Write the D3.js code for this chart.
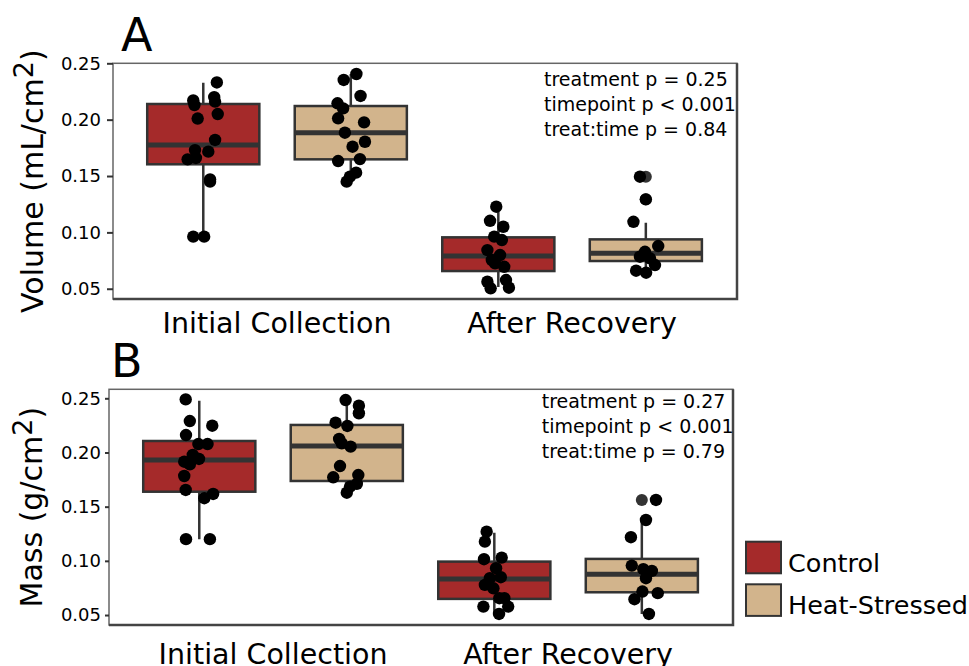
<!DOCTYPE html>
<html>
<head>
<meta charset="utf-8">
<script src="https://cdn.jsdelivr.net/npm/d3@7"></script>
<style>
  body { margin: 0; background: #fff; }
  text { font-family: "DejaVu Sans", sans-serif; fill: #000; }
</style>
</head>
<body>
<div class="chart"></div>
<script>
// categories and treatments
const timepoints = ['Initial Collection', 'After Recovery'];
const treatments = ['Control', 'Heat-Stressed'];
const yTicks = [0.05, 0.10, 0.15, 0.20, 0.25];

// box order: control-initial, heat-initial, control-after, heat-after
// panel A: volume (mL/cm2)
const volLow  = [0.0962, 0.145, 0.0515, 0.0642];
const volQ1   = [0.1604, 0.1648, 0.0657, 0.0746];
const volMed  = [0.1775, 0.1884, 0.0790, 0.0814];
const volQ3   = [0.2139, 0.2121, 0.0956, 0.0938];
const volHigh = [0.2328, 0.2405, 0.1210, 0.1086];
const volOutliers = [[], [], [], [0.1293, 0.1494]];
const volPoints = [
    [0.233, 0.217, 0.213, 0.220, 0.216, 0.201, 0.205, 0.182, 0.173, 0.1716, 0.1648, 0.166, 0.147, 0.145, 0.0962, 0.0962],
    [0.2405, 0.2352, 0.221, 0.2145, 0.210, 0.2012, 0.1976, 0.1884, 0.1804, 0.176, 0.1633, 0.165, 0.153, 0.1494, 0.145],
    [0.1228, 0.1103, 0.105, 0.0962, 0.0932, 0.0843, 0.0799, 0.0755, 0.0725, 0.0695, 0.0562, 0.0577, 0.0504, 0.0509],
    [0.1494, 0.1293, 0.1094, 0.0879, 0.0828, 0.0784, 0.077, 0.071, 0.066, 0.0642]
];
// horizontal jitter, in category units
const volJitter = [
    [0.046, -0.034, -0.030, 0.037, 0.040, -0.019, 0.049, 0.040, -0.028, 0.017, -0.053, -0.025, 0.023, 0.023, -0.034, 0.003],
    [0.019, -0.024, 0.033, -0.045, -0.026, -0.043, 0.045, -0.020, 0.048, 0.006, -0.043, 0.031, 0.018, -0.003, -0.014],
    [-0.007, -0.028, 0.017, -0.014, 0.012, -0.037, 0.006, -0.022, -0.011, 0.020, -0.037, 0.026, -0.026, 0.036],
    [-0.020, 0.000, -0.042, 0.042, -0.003, -0.020, 0.014, 0.031, -0.033, 0.001]
];
const volStats = ['treatment p = 0.25', 'timepoint p < 0.001', 'treat:time p = 0.84'];

// panel B: mass (g/cm2)
const massLow  = [0.120, 0.1629, 0.051, 0.051];
const massQ1   = [0.1638, 0.1737, 0.0649, 0.0710];
const massMed  = [0.1931, 0.2060, 0.0833, 0.0876];
const massQ3   = [0.2106, 0.2254, 0.0993, 0.1018];
const massHigh = [0.2478, 0.2484, 0.1260, 0.1377];
const massOutliers = [[], [], [], [0.1562]];
const massPoints = [
    [0.249, 0.229, 0.2247, 0.2161, 0.2078, 0.2078, 0.1977, 0.1915, 0.194, 0.189, 0.1783, 0.1654, 0.1578, 0.1617, 0.120, 0.120],
    [0.2484, 0.2432, 0.2362, 0.2275, 0.2245, 0.2125, 0.2085, 0.2054, 0.1875, 0.1771, 0.1792, 0.171, 0.1685, 0.1629],
    [0.1269, 0.1177, 0.1015, 0.103, 0.0932, 0.084, 0.0849, 0.0778, 0.0747, 0.0655, 0.0655, 0.0578, 0.0578, 0.051],
    [0.1562, 0.1377, 0.1218, 0.0956, 0.0923, 0.0907, 0.084, 0.0717, 0.0702, 0.0646, 0.051]
];
const massJitter = [
    [-0.046, -0.032, 0.044, -0.045, -0.003, 0.028, -0.022, -0.051, -0.001, -0.032, -0.051, -0.046, 0.017, 0.047, -0.045, 0.036],
    [-0.004, 0.041, 0.041, -0.038, 0.002, -0.026, -0.017, 0.013, -0.023, -0.046, 0.039, 0.034, 0.011, 0.000],
    [-0.026, -0.032, -0.035, 0.025, 0.006, -0.015, 0.022, -0.032, -0.003, 0.017, 0.034, -0.037, 0.047, 0.016],
    [0.048, 0.014, -0.037, -0.034, 0.005, 0.034, 0.014, 0.002, 0.054, -0.025, 0.024]
];
const massStats = ['treatment p = 0.27', 'timepoint p < 0.001', 'treat:time p = 0.79'];

const color = d3.scaleOrdinal().domain(treatments).range(['#A52A2A', '#D2B48C']);
const lineCol = '#333333';

const svg = d3.select('.chart')
    .append('svg')
    .attr('width', 969)
    .attr('height', 666);

const drawPanel = (p) => {
    const x = d3.scaleLinear().domain([0.444, 2.559]).range([p.left, p.right]);
    const y = d3.scaleLinear().domain(p.yDomain).range([p.bottom, p.top]);
    const dodge = 0.25, boxW = 0.38;

    const boxes = d3.range(4).map(i => ({
        i,
        treat: treatments[i % 2],
        xc: 1 + Math.floor(i / 2) + (i % 2 === 0 ? -dodge : dodge),
        low: p.low[i], q1: p.q1[i], med: p.med[i], q3: p.q3[i], high: p.high[i]
    }));

    const g = svg.append('g');

    // panel border
    g.append('rect')
        .attr('x', p.left).attr('y', p.top)
        .attr('width', p.right - p.left).attr('height', p.bottom - p.top)
        .attr('fill', 'none').attr('stroke', '#666').attr('stroke-width', 1.5);
    g.append('path')
        .attr('d', `M${p.left},${p.bottom}H${p.right}V${p.top}`)
        .attr('fill', 'none').attr('stroke', '#444').attr('stroke-width', 2.5);

    // y axis
    const axis = g.append('g')
        .attr('transform', `translate(${p.left},0)`)
        .call(d3.axisLeft(y).tickValues(yTicks).tickFormat(d3.format('.2f'))
            .tickSize(p.tick).tickPadding(p.left - 101 - p.tick));
    axis.select('.domain').remove();
    axis.selectAll('line').attr('stroke', lineCol).attr('stroke-width', 2);
    axis.selectAll('text').attr('font-size', 18).attr('font-family', 'DejaVu Sans').attr('fill', '#000');

    // whiskers
    g.selectAll('.whisker')
        .data(boxes)
        .enter().append('path')
        .attr('d', d => `M${x(d.xc)},${y(d.low)}V${y(d.q1)}M${x(d.xc)},${y(d.q3)}V${y(d.high)}`)
        .attr('stroke', lineCol).attr('stroke-width', 2.5);

    // boxes
    g.selectAll('.box')
        .data(boxes)
        .enter().append('rect')
        .attr('x', d => x(d.xc - boxW / 2))
        .attr('width', d => x(boxW) - x(0))
        .attr('y', d => y(d.q3))
        .attr('height', d => y(d.q1) - y(d.q3))
        .attr('fill', d => color(d.treat))
        .attr('stroke', lineCol).attr('stroke-width', 2.5);

    // medians
    g.selectAll('.median')
        .data(boxes)
        .enter().append('line')
        .attr('x1', d => x(d.xc - boxW / 2)).attr('x2', d => x(d.xc + boxW / 2))
        .attr('y1', d => y(d.med)).attr('y2', d => y(d.med))
        .attr('stroke', lineCol).attr('stroke-width', 5);

    // boxplot outliers
    const outliers = boxes.flatMap(d => p.outliers[d.i].map(v => ({ xc: d.xc, v })));
    g.selectAll('.outlier')
        .data(outliers)
        .enter().append('circle')
        .attr('cx', d => x(d.xc)).attr('cy', d => y(d.v))
        .attr('r', 6).attr('fill', '#333');

    // jittered points
    const pts = boxes.flatMap(d => p.points[d.i].map((v, k) => ({ xc: d.xc + p.jitter[d.i][k], v })));
    g.selectAll('.pt')
        .data(pts)
        .enter().append('circle')
        .attr('cx', d => x(d.xc)).attr('cy', d => y(d.v))
        .attr('r', 6.2).attr('fill', '#000');

    // category labels
    g.selectAll('.xlab')
        .data(timepoints)
        .enter().append('text')
        .attr('x', (d, i) => x(i + 1))
        .attr('y', p.xLabelY)
        .attr('text-anchor', 'middle')
        .attr('font-size', 28.5)
        .text(d => d);

    // y title
    const title = g.append('text')
        .attr('transform', `translate(${p.titleX},${(p.top + p.bottom) / 2}) rotate(-90)`)
        .attr('text-anchor', 'middle')
        .attr('font-size', 30);
    title.append('tspan').text(p.yTitle);
    title.append('tspan').attr('dy', -10).attr('font-size', 27).text('2');
    title.append('tspan').attr('dy', 10).text(')');

    // panel letter
    g.append('text')
        .attr('x', p.letterX).attr('y', p.letterY)
        .attr('font-size', 46)
        .text(p.letter);

    // stats text
    g.selectAll('.stat')
        .data(p.stats)
        .enter().append('text')
        .attr('x', p.statX)
        .attr('y', (d, i) => p.statY + i * 25)
        .attr('font-size', 19)
        .text(d => d);
};

drawPanel({
    left: 113, right: 737, top: 63.3, bottom: 299, yDomain: [0.0409, 0.25], tick: 6,
    low: volLow, q1: volQ1, med: volMed, q3: volQ3, high: volHigh,
    outliers: volOutliers, points: volPoints, jitter: volJitter,
    xLabelY: 333, titleX: 43, yTitle: 'Volume (mL/cm',
    letter: 'A', letterX: 121, letterY: 51,
    stats: volStats, statX: 544, statY: 86
});

drawPanel({
    left: 109, right: 733, top: 389.3, bottom: 625, yDomain: [0.0408, 0.2583], tick: 4,
    low: massLow, q1: massQ1, med: massMed, q3: massQ3, high: massHigh,
    outliers: massOutliers, points: massPoints, jitter: massJitter,
    xLabelY: 664, titleX: 42, yTitle: 'Mass (g/cm',
    letter: 'B', letterX: 111, letterY: 377,
    stats: massStats, statX: 541.7, statY: 408.3
});

// legend
const legend = svg.append('g').attr('transform', 'translate(746, 541.7)');
treatments.forEach((t, i) => {
    legend.append('rect')
        .attr('x', 0).attr('y', i * 42.6)
        .attr('width', 35).attr('height', 31.6)
        .attr('fill', color(t))
        .attr('stroke', lineCol).attr('stroke-width', 2);
    legend.append('text')
        .attr('x', 42).attr('y', i * 42.6 + 30)
        .attr('font-size', 25.5)
        .text(t);
});
</script>
</body>
</html>
